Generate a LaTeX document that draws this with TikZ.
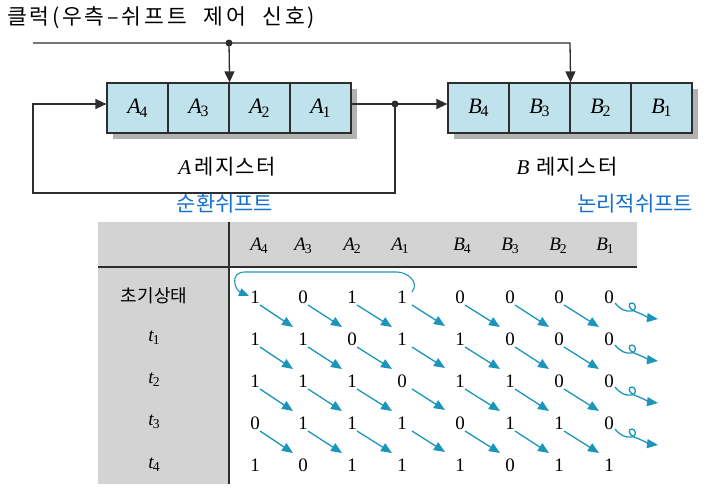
\documentclass[tikz,border=0pt]{standalone}
\usepackage{fontspec}
\setmainfont{Liberation Serif}
\newfontfamily\kr{Noto Sans CJK KR}
\newfontfamily\krw{Noto Sans CJK KR}[LetterSpace=13,WordSpace=2.2]
\newfontfamily\krl{Noto Sans CJK KR}[LetterSpace=6]
\usetikzlibrary{arrows.meta,calc}
\definecolor{cellblue}{RGB}{191,226,236}
\definecolor{tgray}{RGB}{211,211,211}
\definecolor{tealc}{RGB}{27,150,186}
\definecolor{lblue}{RGB}{22,110,205}
\definecolor{wirec}{RGB}{45,45,45}
\newcommand\rg[2]{\textit{#1}\kern-0.06em\raisebox{-0.35ex}{\scalebox{0.72}{#2}}}
\begin{document}
\begin{tikzpicture}[x=1pt,y=-1pt,
  cell/.style={draw=wirec,line width=1.2pt,fill=cellblue,minimum width=61pt,minimum height=50pt,inner sep=0pt,font=\fontsize{22}{22}\selectfont},
  wire/.style={draw=wirec,line width=1.3pt},
  blk/.style={-{Triangle[length=11pt,width=10pt]}},
  val/.style={font=\fontsize{19}{19}\selectfont,inner sep=0pt},
  hdr/.style={font=\fontsize{19}{19}\selectfont,inner sep=0pt},
  rlab/.style={font=\fontsize{19}{19}\selectfont,inner sep=0pt},
  sh/.style={tealc,line width=1.3pt,-{Triangle[length=11pt,width=9pt]}},
  reglab/.style={inner sep=0pt,font=\fontsize{21}{21}\selectfont},
  bluelab/.style={font=\kr\fontsize{21}{21}\selectfont,inner sep=0pt,text=lblue}]
\useasboundingbox (0,0) rectangle (715,488);

% ---------- circuit ----------
\node[font=\krw\fontsize{21.5}{21.5}\selectfont,inner sep=0pt,anchor=west] (clk) at (7,18) {클럭(우측–쉬프트 제어 신호)};

\fill[gray!60] (113,89) rectangle (357,139);
\fill[gray!60] (454,89) rectangle (698,139);
\node[cell] (a4) at (137.5,108) {\rg{A}{4}};
\node[cell] (a3) at (198.5,108) {\rg{A}{3}};
\node[cell] (a2) at (259.5,108) {\rg{A}{2}};
\node[cell] (a1) at (320.5,108) {\rg{A}{1}};
\node[cell] (b4) at (478.5,108) {\rg{B}{4}};
\node[cell] (b3) at (539.5,108) {\rg{B}{3}};
\node[cell] (b2) at (600.5,108) {\rg{B}{2}};
\node[cell] (b1) at (661.5,108) {\rg{B}{1}};

\coordinate (clkL) at (33,43);
\coordinate (clkD) at (229,43);
\coordinate (clkR) at (570,43);
\coordinate (fb) at (395,104);
\coordinate (fbB) at (395,193);
\coordinate (fbL) at (33,193);

\draw[wire,blk] (clkL) -- (clkR) -- (b3.north east);
\draw[wire,blk] (clkD) -- (a3.north east);
\fill[wirec] (clkD) circle (3.5);

\draw[wire,blk] (a1.east |- fb) -- (b4.west |- fb);
\draw[wire,blk] (fb) -- (fbB) -- (fbL) |- (a4.west |- fb);
\fill[wirec] (fb) circle (3.5);

\node[reglab] (alab) at (227,167) {\textit{A}\,{\krl 레지스터}};
\node[reglab] (blab) at (567,167) {\textit{B}\,\,{\krl 레지스터}};
\node[bluelab] (cs) at (225,204) {순환쉬프트};
\node[bluelab] (ls) at (635,204) {논리적쉬프트};

% ---------- table ----------
\fill[tgray] (98,222) rectangle (637,267);
\fill[tgray] (98,267) rectangle (228,484);
\draw[wirec,line width=2pt] (98,267) -- (637,267);
\draw[wirec,line width=1.5pt] (229,222) -- (229,484);

\node[hdr] (hA4) at (259,246) {\rg{A}{4}};
\node[hdr] (hA3) at (303,246) {\rg{A}{3}};
\node[hdr] (hA2) at (352,246) {\rg{A}{2}};
\node[hdr] (hA1) at (400,246) {\rg{A}{1}};
\node[hdr] (hB4) at (462,246) {\rg{B}{4}};
\node[hdr] (hB3) at (510,246) {\rg{B}{3}};
\node[hdr] (hB2) at (558,246) {\rg{B}{2}};
\node[hdr] (hB1) at (605,246) {\rg{B}{1}};

\node[font=\kr\fontsize{18}{18}\selectfont,inner sep=0pt] (r0) at (154,296) {초기상태};
\node[rlab] (r1) at (154,338) {\rg{t}{1}};
\node[rlab] (r2) at (154,380) {\rg{t}{2}};
\node[rlab] (r3) at (154,422) {\rg{t}{3}};
\node[rlab] (r4) at (154,465) {\rg{t}{4}};

\foreach \r/\yy/\vals in {0/297/{1,0,1,1,0,0,0,0},1/339/{1,1,0,1,1,0,0,0},2/381/{1,1,1,0,1,1,0,0},3/423/{0,1,1,1,0,1,1,0},4/465/{1,0,1,1,1,0,1,1}}{
  \foreach \v [count=\c from 0] in \vals {
    \pgfmathsetmacro\xx{{255,303,352,402,460,510,559,609}[\c]}
    \node[val] (v-\r-\c) at (\xx,\yy) {\v};
  }
}

\foreach \r in {0,...,3}{
  \pgfmathtruncatemacro\rn{\r+1}
  \foreach \c in {0,1,2,4,5,6}{
    \pgfmathtruncatemacro\cn{\c+1}
    \draw[sh] ($(v-\r-\c)+(5,8)$) -- ($(v-\rn-\cn)+(-10,-12)$);
  }
  \draw[sh] ($(v-\r-3)+(10,8)$) -- ($(v-\rn-4)+(-15,-13)$);
  \draw[sh] ($(v-\r-7)+(6,6)$) .. controls +(5,6) and +(-7,1) .. ($(v-\r-7)+(23,14)$)
     .. controls +(5,-1) and +(4,0) .. ($(v-\r-7)+(23,6)$)
     .. controls +(-4,0) and +(-6,-3) .. ($(v-\r-7)+(25,14)$)
     .. controls +(8,3) and +(-8,-1) .. ($(v-\r-7)+(49,22)$);
}

\draw[tealc,line width=1.1pt,-{Triangle[length=10pt,width=8pt]}]
  ($(v-0-3)+(10,-5)$) .. controls +(8,-10) and +(10,0) .. ($(v-0-3)+(-5,-25)$)
  -- ($(v-0-0)+(-10,-25)$) .. controls +(-16,0) and +(-14,-6) .. ($(v-0-0)+(-6,-1)$);
\end{tikzpicture}
\end{document}
